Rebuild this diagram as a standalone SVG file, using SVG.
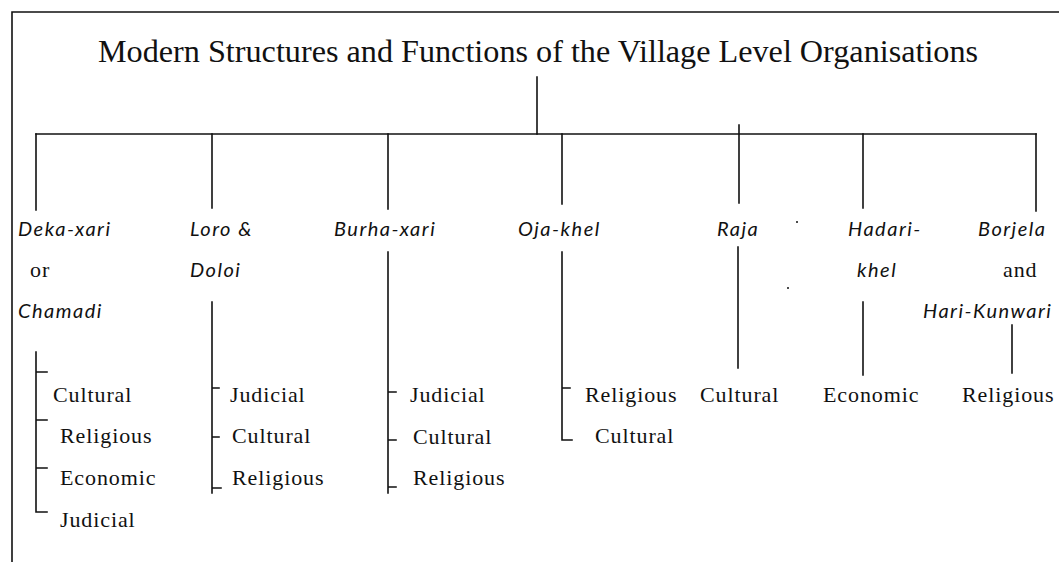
<svg xmlns="http://www.w3.org/2000/svg" width="1059" height="562" viewBox="0 0 1059 562">
<style>
.ln{stroke:#111;stroke-width:1.6;fill:none;stroke-linecap:square}
.title{font-family:"Liberation Serif","Times New Roman",serif;font-size:32.2px;fill:#111}
.org{font-family:Lato,"Open Sans","DejaVu Sans",sans-serif;font-style:italic;font-size:20px;letter-spacing:1.5px;fill:#111}
.rm{font-family:"Liberation Serif","Times New Roman",serif;font-size:22px;letter-spacing:0.9px;fill:#111}
</style>
<rect width="1059" height="562" fill="#fff"/>
<g id="frame" class="ln"><path d="M12 562V12H1059"/></g>
<g id="title"><text class="title" x="98" y="62">Modern Structures and Functions of the Village Level Organisations</text></g>
<g id="connectors" class="ln">
<path d="M537 77V134"/>
<path d="M36 134H1036"/>
<path d="M36 134V210M212 134V208M388 134V209M562 134V204M739 125V203M863 134V208M1036 134V211"/>
<path d="M36 352V512H47M36 372H47M36 420H47M36 468H47"/>
<path d="M212 302V493M212 388H219M212 437H219M212 488H221"/>
<path d="M388 252V493M388 392H396M388 440H396M388 487H396"/>
<path d="M562 252V440H572M562 388H570"/>
<path d="M738 247V368"/>
<path d="M863 302V375"/>
<path d="M1012 325V373"/>
</g>
<g id="node-deka">
<text class="org" x="18" y="236">Deka-xari</text>
<text class="rm" x="30" y="277">or</text>
<text class="org" x="18" y="318">Chamadi</text>
</g>
<g id="node-loro">
<text class="org" x="190" y="236">Loro &amp;</text>
<text class="org" x="190" y="277">Doloi</text>
</g>
<g id="node-burha"><text class="org" x="334" y="236">Burha-xari</text></g>
<g id="node-oja"><text class="org" x="518" y="236">Oja-khel</text></g>
<g id="node-raja"><text class="org" x="717" y="236">Raja</text></g>
<g id="node-hadari">
<text class="org" x="848" y="236">Hadari-</text>
<text class="org" x="857" y="277">khel</text>
</g>
<g id="node-borjela">
<text class="org" x="978" y="236">Borjela</text>
<text class="rm" x="1003" y="277">and</text>
<text class="org" x="923" y="318">Hari-Kunwari</text>
</g>
<g id="func-deka">
<text class="rm" x="53" y="402">Cultural</text>
<text class="rm" x="60" y="443">Religious</text>
<text class="rm" x="60" y="485">Economic</text>
<text class="rm" x="60" y="527">Judicial</text>
</g>
<g id="func-loro">
<text class="rm" x="230" y="402">Judicial</text>
<text class="rm" x="232" y="443">Cultural</text>
<text class="rm" x="232" y="485">Religious</text>
</g>
<g id="func-burha">
<text class="rm" x="410" y="402">Judicial</text>
<text class="rm" x="413" y="444">Cultural</text>
<text class="rm" x="413" y="485">Religious</text>
</g>
<g id="func-oja">
<text class="rm" x="585" y="402">Religious</text>
<text class="rm" x="595" y="443">Cultural</text>
</g>
<g id="func-raja"><text class="rm" x="700" y="402">Cultural</text></g>
<g id="func-hadari"><text class="rm" x="823" y="402">Economic</text></g>
<g id="func-borjela"><text class="rm" x="962" y="402">Religious</text></g>
<g id="specks" fill="#111"><circle cx="797" cy="222" r="1"/><circle cx="788" cy="288" r="1"/></g>
</svg>
